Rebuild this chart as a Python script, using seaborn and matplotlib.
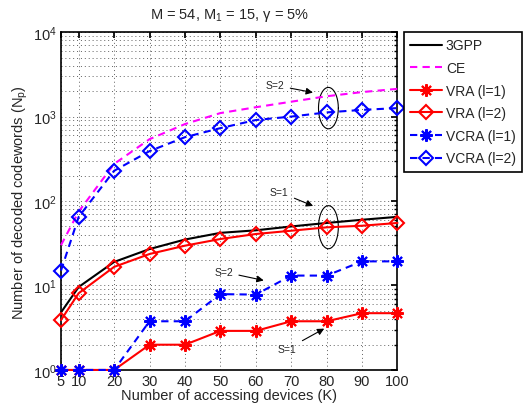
import numpy as np
import pandas as pd
import matplotlib
matplotlib.use("Agg")
import matplotlib.pyplot as plt
import seaborn as sns

K = [5, 10, 20, 30, 40, 50, 60, 70, 80, 90, 100]
gpp3 = [4.8, 9.6, 19, 27, 35, 42, 45, 50, 55, 60, 65]
ce = [30, 75, 275, 540, 815, 1100, 1290, 1500, 1740, 1950, 2130]
vra_l1 = [1, 1, 1, 1.99, 1.99, 2.9, 2.9, 3.77, 3.77, 4.7, 4.7]
vra_l2 = [3.9, 8.1, 16.6, 23.6, 29.6, 35.5, 40.7, 44.5, 48.8, 51, 55]
vcra_l1 = [1, 1, 1, 3.77, 3.77, 7.9, 7.8, 13.1, 13.1, 19.3, 19.3]
vcra_l2 = [15, 65, 228, 390, 570, 730, 910, 1000, 1120, 1200, 1260]
x_ticks = [5, 10, 20, 30, 40, 50, 60, 70, 80, 90, 100]

sns.set_theme(style="white")
plt.rcParams['font.family'] = ['Liberation Sans', 'DejaVu Sans']
plt.rcParams['mathtext.fontset'] = 'custom'
plt.rcParams['mathtext.rm'] = 'Liberation Sans'
plt.rcParams['mathtext.it'] = 'Liberation Sans'

fig = plt.figure(figsize=(5.23, 4.14), dpi=100)
ax = fig.add_axes([0.1166, 0.104, 0.76 - 0.1166, 0.920 - 0.104])

series = [
    ("3GPP", gpp3, "black", "-", None),
    ("CE", ce, "#ff00ff", "--", None),
    ("VRA (l=1)", vra_l1, "red", "-", "*"),
    ("VRA (l=2)", vra_l2, "red", "-", "D"),
    ("VCRA (l=1)", vcra_l1, "blue", "--", "*"),
    ("VCRA (l=2)", vcra_l2, "blue", "--", "D"),
]

for name, vals, col, ls, mk in series:
    df = pd.DataFrame({"K": K, "v": vals})
    kw = dict(color=col, linewidth=1.5, label=name, clip_on=False, zorder=3)
    if ls == "--":
        kw["dashes"] = (3.5, 2.5)
    else:
        kw["linestyle"] = "-"
    if mk == "D":
        kw.update(marker="D", markersize=7.5, markerfacecolor="none",
                  markeredgecolor=col, markeredgewidth=1.5)
    elif mk == "*":
        kw.update(marker=(8, 2, 0), markersize=9, markerfacecolor=col,
                  markeredgecolor=col, markeredgewidth=1.5)
    sns.lineplot(data=df, x="K", y="v", ax=ax, **kw)

ax.set_yscale("log")
ax.set_xlim(5, 100)
ax.set_ylim(1, 1e4)
ax.set_xticks(x_ticks)
ax.set_xticklabels([str(t) for t in x_ticks])

gkw = dict(linestyle=(0, (1, 3)), color="#606060", linewidth=0.7)
ax.grid(True, which="major", axis="both", **gkw)
ax.grid(True, which="minor", axis="y", **gkw)
ax.tick_params(which="both", direction="in", top=True, right=True, labelsize=10.5,
               pad=3, color="black")
ax.tick_params(which="major", length=4)
ax.tick_params(which="minor", length=2)
for s in ax.spines.values():
    s.set_color("black")
    s.set_linewidth(1.2)

ax.set_xlabel("Number of accessing devices (K)", fontsize=10.5, labelpad=0)
ax.set_ylabel("Number of decoded codewords (N$_\\mathrm{p}$)", fontsize=10.5, labelpad=2)
ax.set_title("M = 54, M$_\\mathrm{1}$ = 15, \u03b3 = 5%", fontsize=10.5, pad=10)

def ell(xc, yc, w_units, h_dec):
    t = np.linspace(0, 2 * np.pi, 200)
    xs = xc + w_units / 2 * np.cos(t)
    ys = 10 ** (np.log10(yc) + h_dec / 2 * np.sin(t))
    ax.plot(xs, ys, color="black", linewidth=0.8)

ell(80.5, 1260, 5.6, 0.49)
ell(80.5, 49, 5.6, 0.51)

ak = dict(arrowstyle="-|>", color="black", lw=0.8, mutation_scale=10)
ax.annotate("S=2", xy=(76.9, 1900), xytext=(65.4, 2350), fontsize=7.5,
            arrowprops=ak, va="center", ha="center")
ax.annotate("S=1", xy=(76.9, 85), xytext=(66.6, 128), fontsize=7.5,
            arrowprops=ak, va="center", ha="center")
ax.annotate("S=2", xy=(63, 11.3), xytext=(50.9, 14.5), fontsize=7.5,
            arrowprops=ak, va="center", ha="center")
ax.annotate("S=1", xy=(80, 3.2), xytext=(68.9, 1.77), fontsize=7.5,
            arrowprops=ak, va="center", ha="center")

leg = ax.legend(loc="upper left", bbox_to_anchor=(1.018, 1.0), fontsize=10,
                frameon=True, fancybox=False, borderaxespad=0, handlelength=2.3,
                handletextpad=0.3, labelspacing=0.62, borderpad=0.45)
leg.get_frame().set_edgecolor("black")
leg.get_frame().set_linewidth(1.2)
leg.get_frame().set_alpha(1)

fig.savefig("out.png", dpi=100)
